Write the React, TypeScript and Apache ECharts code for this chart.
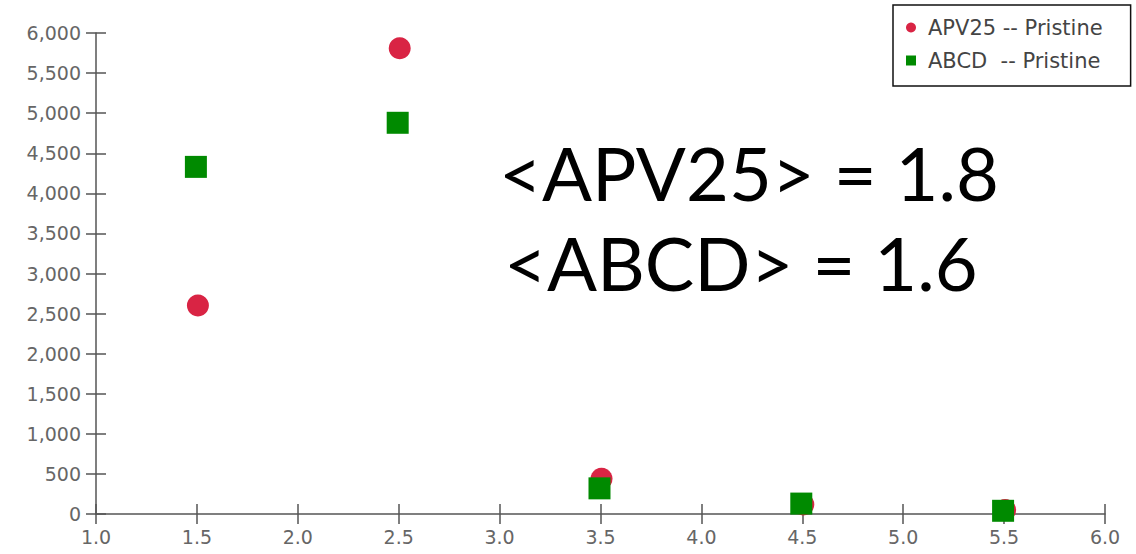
import React, { useEffect, useRef } from "react";
import * as echarts from "echarts";

const apvX = [1.505, 2.505, 3.505, 4.505, 5.505];
const apvY = [2600, 5810, 440, 120, 50];
const abcdX = [1.495, 2.495, 3.495, 4.495, 5.495];
const abcdY = [4330, 4880, 320, 130, 40];
const seriesNames = ["APV25 -- Pristine", "ABCD  -- Pristine"];
const annotations = ["<APV25> = 1.8", "<ABCD> = 1.6"];

export default function App() {
  const ref = useRef<HTMLDivElement>(null);
  useEffect(() => {
    if (!ref.current) return;
    const chart = echarts.init(ref.current, undefined, { renderer: "svg" });
    const font = "DejaVu Sans";
    const axisColor = "#555";
    const baseX = {
      type: "value",
      min: 1,
      max: 6,
      interval: 0.5,
      splitLine: { show: false },
    };
    const baseY = {
      type: "value",
      min: 0,
      max: 6000,
      interval: 500,
      splitLine: { show: false },
    };
    chart.setOption({
      animation: false,
      grid: { left: 96, right: 31, top: 33, bottom: 40, containLabel: false },
      xAxis: [
        {
          ...baseX,
          axisLine: { show: true, onZero: false, lineStyle: { color: axisColor, width: 1.5 } },
          axisTick: { show: true, length: 10, lineStyle: { color: axisColor, width: 1.5 } },
          axisLabel: {
            color: "#666",
            fontFamily: font,
            fontSize: 19,
            margin: 13,
            formatter: (v: number) => v.toFixed(1),
          },
        },
        {
          ...baseX,
          position: "bottom",
          axisLine: { show: false, onZero: false },
          axisTick: { show: true, inside: true, length: 10, lineStyle: { color: axisColor, width: 1.5 } },
          axisLabel: { show: false },
        },
      ],
      yAxis: [
        {
          ...baseY,
          axisLine: { show: true, onZero: false, lineStyle: { color: axisColor, width: 1.5 } },
          axisTick: { show: true, length: 10, lineStyle: { color: axisColor, width: 1.5 } },
          axisLabel: {
            color: "#666",
            fontFamily: font,
            fontSize: 19,
            margin: 15,
            formatter: (v: number) => v.toLocaleString("en-US"),
          },
        },
        {
          ...baseY,
          position: "left",
          axisLine: { show: false, onZero: false },
          axisTick: { show: true, inside: true, length: 10, lineStyle: { color: axisColor, width: 1.5 } },
          axisLabel: { show: false },
        },
      ],
      legend: {
        orient: "vertical",
        left: 893,
        top: 5,
        borderColor: "#111",
        borderWidth: 1.5,
        padding: [12, 28, 15, 13],
        itemGap: 12,
        itemWidth: 10,
        itemHeight: 10,
        textStyle: { fontFamily: font, fontSize: 21, color: "#444", padding: [0, 0, 0, 7] },
        data: [
          { name: seriesNames[0], icon: "circle" },
          { name: seriesNames[1], icon: "rect" },
        ],
      },
      graphic: [
        {
          type: "text",
          left: 499,
          top: 135,
          style: {
            text: annotations[0],
            fontFamily: "Lato",
            fontSize: 74,
            fill: "#000",
          },
        },
        {
          type: "text",
          left: 504,
          top: 225,
          style: {
            text: annotations[1],
            fontFamily: "Lato",
            fontSize: 74,
            fill: "#000",
          },
        },
      ],
      series: [
        {
          name: seriesNames[0],
          type: "scatter",
          symbol: "circle",
          symbolSize: 22,
          itemStyle: { color: "#D92444", opacity: 1 },
          data: apvX.map((x, i) => [x, apvY[i]]),
          z: 2,
        },
        {
          name: seriesNames[1],
          type: "scatter",
          symbol: "rect",
          symbolSize: 22,
          itemStyle: { color: "#008A00", opacity: 1 },
          data: abcdX.map((x, i) => [x, abcdY[i]]),
          z: 3,
        },
      ],
    });
    return () => chart.dispose();
  }, []);
  return <div ref={ref} style={{ width: 1136, height: 554, position: "absolute", left: 0, top: 0 }} />;
}
